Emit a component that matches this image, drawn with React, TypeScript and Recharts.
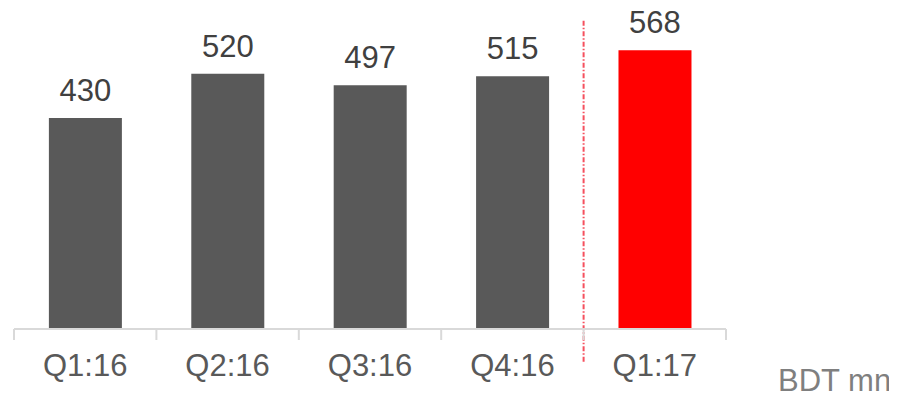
import React from "react"
import { BarChart, Bar, XAxis, YAxis, Cell, LabelList, ReferenceLine } from "recharts"

const quarters = ["Q1:16", "Q2:16", "Q3:16", "Q4:16", "Q1:17"]
const revenue = [430, 520, 497, 515, 568]
const barColors = ["#595959", "#595959", "#595959", "#595959", "#ff0000"]
const unitLabel = "BDT mn"
const splitBefore = "Q1:17"

const data = quarters.map((q, i) => ({ quarter: q, value: revenue[i], color: barColors[i] }))

const FONT = "'Liberation Sans', Arial, sans-serif"

// label under each bar, plus a small tick mark at the category boundaries
const QuarterTick = (props: any) => {
  const { x, y, payload, index } = props
  const half = payload.offset ?? 0
  return (
    <g>
      <line x1={x - half} x2={x - half} y1={y - 11} y2={y} stroke="#d9d9d9" strokeWidth={2} />
      {index === quarters.length - 1 && (
        <line x1={x + half} x2={x + half} y1={y - 11} y2={y} stroke="#d9d9d9" strokeWidth={2} />
      )}
      <text x={x} y={y} dy={36} textAnchor="middle" fill="#595959" fontSize={31} fontFamily={FONT}>
        {payload.value}
      </text>
    </g>
  )
}

export default function App() {
  return (
    <div style={{ position: "relative", width: 897, height: 399, margin: -8 }}>
      <BarChart
        width={897}
        height={399}
        data={data}
        margin={{ top: 34.6, right: 171, bottom: 0, left: 14 }}
        barCategoryGap="24.5%"
      >
        <XAxis
          dataKey="quarter"
          height={70}
          axisLine={{ stroke: "#d9d9d9", strokeWidth: 2 }}
          tickLine={false}
          tickSize={11}
          tickMargin={0}
          interval={0}
          tick={<QuarterTick />}
        />
        <YAxis domain={[0, 600]} hide />
        <Bar dataKey="value" isAnimationActive={false}>
          {data.map((d, i) => (
            <Cell key={`c-${i}`} fill={d.color} />
          ))}
          <LabelList dataKey="value" position="top" offset={17} fill="#404040" fontSize={31} fontFamily={FONT} />
        </Bar>
        <ReferenceLine
          segment={[
            { x: splitBefore, y: -67 },
            { x: splitBefore, y: 630 },
          ]}
          position="start"
          ifOverflow="visible"
          stroke="#f5505e"
          strokeWidth={2}
          strokeDasharray="5 2 1.5 2"
        />
      </BarChart>
      <div
        style={{
          position: "absolute",
          left: 778,
          top: 363,
          fontFamily: FONT,
          fontSize: 31,
          color: "#7f7f7f",
          whiteSpace: "nowrap",
          lineHeight: "36px",
        }}
      >
        {unitLabel}
      </div>
    </div>
  )
}
